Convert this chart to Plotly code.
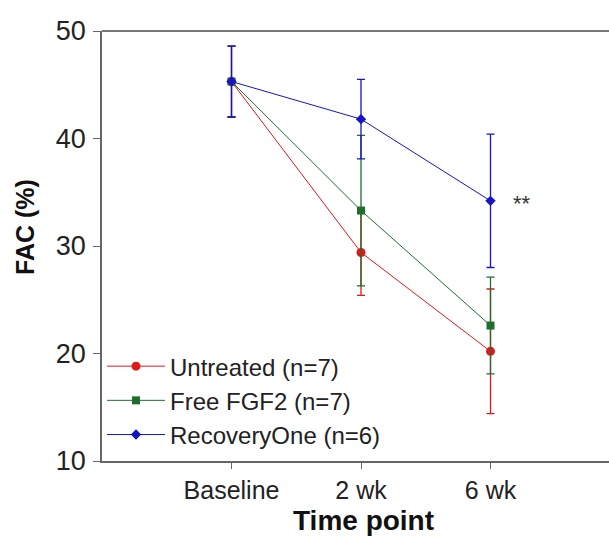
import plotly.graph_objects as go

categories = ["Baseline", "2 wk", "6 wk"]
untreated = [45.3, 29.4, 20.2]
untreated_err = [3.3, 4.0, 5.8]
free_fgf2 = [45.3, 33.3, 22.6]
free_fgf2_err = [3.3, 7.0, 4.5]
recovery = [45.3, 41.8, 34.2]
recovery_err = [3.3, 3.7, 6.2]
names = ["Untreated (n=7)", "Free FGF2 (n=7)", "RecoveryOne (n=6)"]
colors = ["#e3161c", "#1f6e2c", "#1515c4"]
symbols = ["circle", "square", "diamond"]
sizes = [9, 8, 8]

xpos = [0, 1, 2]
fig = go.Figure()
for vals, errs, name, col, sym, sz in zip(
        [untreated, free_fgf2, recovery],
        [untreated_err, free_fgf2_err, recovery_err],
        names, colors, symbols, sizes):
    fig.add_trace(go.Scatter(
        x=xpos, y=vals, name=name, mode="lines+markers",
        line=dict(color=col, width=1),
        marker=dict(color=col, symbol=sym, size=sz),
        error_y=dict(type="data", array=errs, visible=True, color=col,
                     thickness=1.3, width=4),
    ))

fig.add_annotation(x=2, y=recovery[2], text="**", showarrow=False,
                   xanchor="left", xshift=20, yshift=-3,
                   font=dict(size=22, color="#333333"))
fig.add_annotation(xref="paper", yref="paper", x=-0.152, y=0.544,
                   text="<b>FAC (%)</b>", textangle=-90, showarrow=False,
                   xanchor="center", yanchor="middle",
                   font=dict(size=25, color="#111111"))
fig.add_annotation(xref="paper", yref="paper", x=0.515, y=-0.138,
                   text="<b>Time point</b>", showarrow=False,
                   xanchor="center", yanchor="middle",
                   font=dict(size=28, color="#111111"))
fig.add_shape(type="line", xref="paper", yref="paper", x0=0, x1=1, y0=1, y1=1,
              line=dict(color="#777777", width=1.8), layer="above")

fig.update_layout(
    width=609, height=539,
    margin=dict(l=102, r=0, t=31, b=78),
    paper_bgcolor="white", plot_bgcolor="white",
    font=dict(family="Liberation Sans, Arial, sans-serif", color="#222222"),
    showlegend=True,
    legend=dict(x=0.0, y=0.272, xanchor="left", yanchor="top",
                bgcolor="rgba(0,0,0,0)", font=dict(size=24),
                tracegroupgap=0, itemwidth=58),
    xaxis=dict(range=[-1, -1 + 507 / 129.5], tickvals=xpos, ticktext=categories,
               showline=True, linecolor="#666666", linewidth=1.8,
               ticks="outside", ticklen=6, tickcolor="#666666",
               ticklabelstandoff=0,
               showgrid=False, zeroline=False,
               tickfont=dict(size=25, color="#222222")),
    yaxis=dict(range=[10, 50], tickvals=[10, 20, 30, 40, 50],
               showline=True, linecolor="#666666", linewidth=1.8,
               ticks="outside", ticklen=7, tickcolor="#666666",
               ticklabelstandoff=2,
               showgrid=False, zeroline=False,
               tickfont=dict(size=27, color="#222222")),
)
fig.write_html("out.html", config={"displayModeBar": False},
               post_script="document.body.style.margin='0';document.body.style.overflow='hidden';")
